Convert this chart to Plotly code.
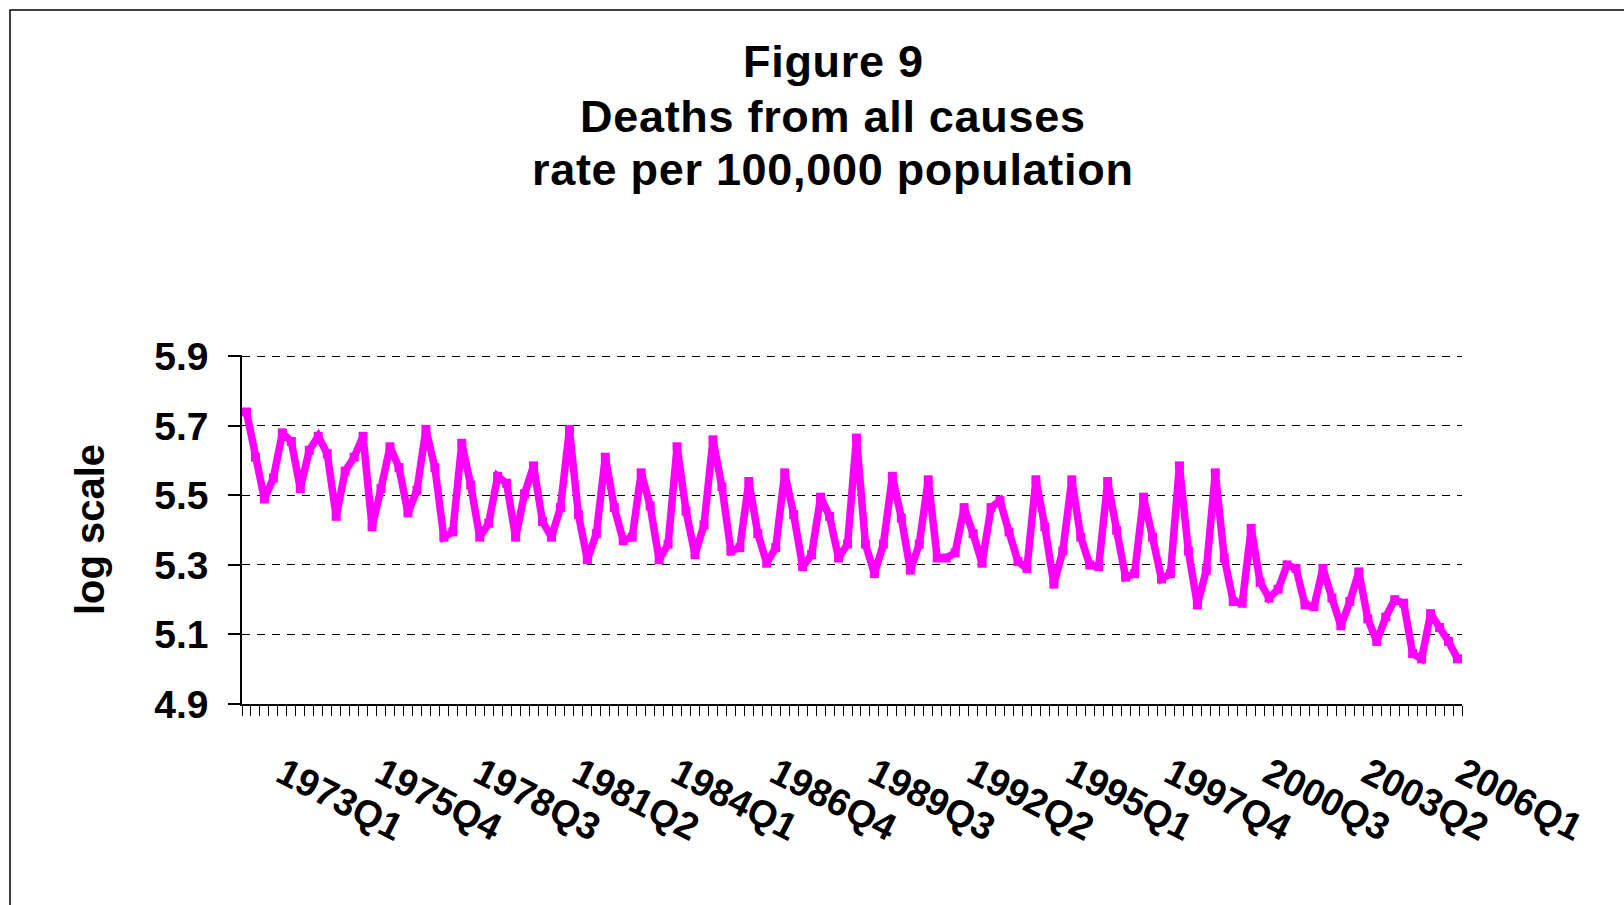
import plotly.graph_objects as go

# Quarterly series, 1972Q1 .. 2005Q4 (log of deaths per 100,000)
years = list(range(1972, 2006))
quarter_names = ["Q1", "Q2", "Q3", "Q4"]

log_rate = [
    5.74, 5.61, 5.49, 5.55, 5.68, 5.655, 5.52, 5.63, 5.67, 5.62, 5.44, 5.57,
    5.61, 5.67, 5.41, 5.52, 5.64, 5.58, 5.45, 5.515, 5.69, 5.58, 5.38, 5.395,
    5.65, 5.53, 5.38, 5.42, 5.555, 5.535, 5.38, 5.505, 5.585, 5.425, 5.38, 5.465,
    5.69, 5.445, 5.315, 5.39, 5.61, 5.465, 5.37, 5.38, 5.565, 5.47, 5.315, 5.36,
    5.64, 5.455, 5.33, 5.415, 5.66, 5.525, 5.34, 5.35, 5.54, 5.39, 5.305, 5.35,
    5.565, 5.445, 5.295, 5.33, 5.495, 5.44, 5.32, 5.36, 5.665, 5.36, 5.275, 5.36,
    5.555, 5.435, 5.285, 5.36, 5.545, 5.32, 5.32, 5.335, 5.465, 5.39, 5.305, 5.465,
    5.485, 5.395, 5.31, 5.29, 5.545, 5.41, 5.245, 5.34, 5.545, 5.38, 5.30, 5.295,
    5.54, 5.40, 5.265, 5.275, 5.495, 5.38, 5.26, 5.275, 5.585, 5.34, 5.185, 5.285,
    5.565, 5.32, 5.195, 5.19, 5.405, 5.25, 5.205, 5.23, 5.30, 5.29, 5.185, 5.18,
    5.29, 5.205, 5.125, 5.195, 5.28, 5.145, 5.08, 5.15, 5.20, 5.19, 5.045, 5.03,
    5.16, 5.12, 5.08, 5.03,
]

tick_labels = ["1973Q1", "1975Q4", "1978Q3", "1981Q2", "1984Q1", "1986Q4",
               "1989Q3", "1992Q2", "1995Q1", "1997Q4", "2000Q3", "2003Q2", "2006Q1"]

y_ticks = [4.9, 5.1, 5.3, 5.5, 5.7, 5.9]

title_lines = ["Figure 9", "Deaths from all causes", "rate per 100,000 population"]


def quarter_pos(label):
    y, q = label.split("Q")
    return int(y) + (int(q) - 1) / 4.0


x_pos = [y + i / 4.0 for y in years for i in range(4)][:len(log_rate)]
hover = [f"{y}{q}" for y in years for q in quarter_names][:len(log_rate)]

# category axis: each quarter occupies one slot, axis spans half a slot either side
x_min = x_pos[0] - 0.125
x_max = x_pos[-1] + 0.125
tick_pos = [min(quarter_pos(t), x_max) for t in tick_labels]

W, H = 1624, 905
L, R, T, B = 242, 1462, 355, 704

fig = go.Figure()
fig.add_trace(go.Scatter(
    x=x_pos, y=log_rate, text=hover, mode="lines+markers",
    line=dict(color="#FF00FF", width=7.5),
    marker=dict(color="#FF00FF", size=9, symbol="square"),
    hovertemplate="%{text}: %{y}<extra></extra>",
))

font_family = "Liberation Sans, Arial, sans-serif"

# title: three centred lines
title_y_px = [62, 116, 170]
annotations = []
for line, ypx in zip(title_lines, title_y_px):
    annotations.append(dict(
        text=f"<span style='letter-spacing:0.7px'><b>{line}</b></span>",
        xref="paper", yref="paper",
        x=(833 - L) / (R - L), y=(B - ypx) / (B - T),
        xanchor="center", yanchor="middle", showarrow=False,
        font=dict(size=45, family=font_family, color="black"),
    ))

fig.update_layout(
    width=W, height=H,
    margin=dict(l=L, r=W - R, t=T, b=H - B, pad=0),
    paper_bgcolor="white", plot_bgcolor="white",
    showlegend=False,
    font=dict(family=font_family, color="black"),
    annotations=annotations,
    xaxis=dict(
        range=[x_min, x_max],
        showgrid=False, zeroline=False,
        showline=True, linecolor="black", linewidth=1.5,
        tickmode="array", tickvals=tick_pos, ticktext=[f"<b>{t}</b>" for t in tick_labels],
        ticks="", tickangle=27, ticklabelstandoff=31,
        tickfont=dict(size=38, family=font_family, color="black"),
        minor=dict(tickmode="linear", tick0=x_min, dtick=0.25, ticks="outside",
                   ticklen=10, tickcolor="black", tickwidth=1, showgrid=False),
    ),
    yaxis=dict(
        range=[4.9, 5.904],
        tickmode="array", tickvals=y_ticks, ticktext=[f"<b>{v:.1f}</b>" for v in y_ticks],
        showgrid=True, gridcolor="black", gridwidth=1, griddash="8px,7px",
        zeroline=False,
        showline=True, linecolor="black", linewidth=1.5,
        ticks="outside", ticklen=12, tickcolor="black", tickwidth=1.5,
        ticklabelstandoff=12,
        tickfont=dict(size=39, family=font_family, color="black"),
        title=dict(text="<b>log scale</b>", standoff=37,
                   font=dict(size=40, family=font_family, color="black")),
    ),
    shapes=[dict(
        type="rect", xref="paper", yref="paper",
        x0=(10 - L) / (R - L), x1=(W + 20 - L) / (R - L),
        y0=(B - (H + 20)) / (B - T), y1=(B - 10) / (B - T),
        line=dict(color="black", width=1.5), fillcolor="rgba(0,0,0,0)", layer="below",
    )],
)

fig.write_html(
    "out.html",
    config={"displayModeBar": False},
    post_script="document.body.style.margin='0';document.body.style.overflow='hidden';",
)
